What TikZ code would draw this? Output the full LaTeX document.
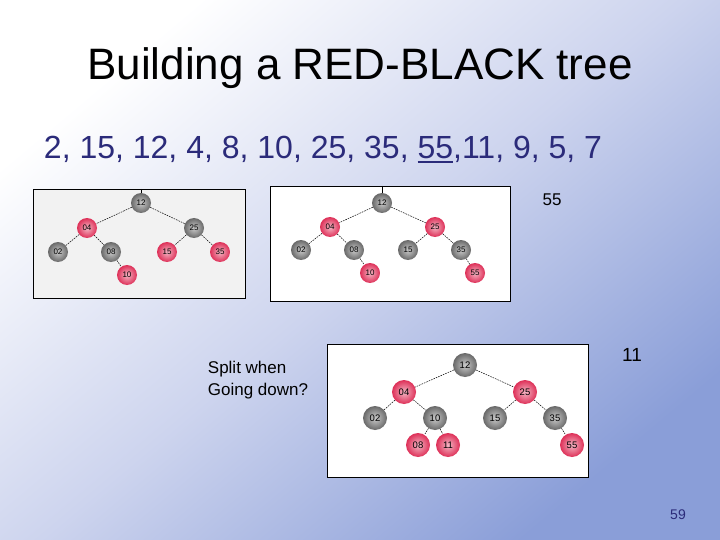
\documentclass[tikz,border=0pt]{standalone}
\usepackage{fontspec}
\setmainfont{Liberation Sans}
\definecolor{seqblue}{RGB}{43,43,122}
\definecolor{bgblue}{RGB}{138,158,216}
\definecolor{bgmid}{RGB}{205,212,238}
\definecolor{rbred}{RGB}{222,48,88}
\definecolor{rbgray}{RGB}{105,105,105}
\newcommand\ulthick[1]{\setbox0\hbox{#1}\rlap{\rule[-4.5pt]{\wd0}{2.4pt}}\box0}

\begin{document}
\begin{tikzpicture}[x=1pt,y=-1pt,
  blk/.style={circle, minimum size=20pt, inner sep=0pt, inner color=rbgray!35!white, outer color=rbgray, text=black, font=\fontsize{8}{8}\selectfont},
  rd/.style={blk, inner color=rbred!35!white, outer color=rbred},
  big/.style={minimum size=24pt, font=\fontsize{9.5}{9.5}\selectfont},
  edge/.style={dash pattern=on 1.6pt off 1pt, line width=0.5pt},
  box/.style={draw=black, line width=0.8pt}]
  % Background
  \useasboundingbox (0,0) rectangle (720,540);
  \shade[top color=white, bottom color=bgblue, middle color=bgmid, shading angle=40] (0,0) rectangle (720,540);
  % Title and sequence
  \node (title) at (360,68) {\fontsize{44}{44}\selectfont Building a RED-BLACK tree};
  \node[text=seqblue] (seq) at (323,150) {\fontsize{32}{32}\selectfont 2, 15, 12, 4, 8, 10, 25, 35, \ulthick{55},11, 9, 5, 7};
  % Side labels
  \node (l55) at (552,200) {\fontsize{17}{17}\selectfont 55};
  \node (l11) at (632,355) {\fontsize{19}{19}\selectfont 11};
  \node[align=left, font=\fontsize{17}{22}\selectfont] (split) at (258,380) {Split when\\Going down?};
  \node[text=seqblue] (page) at (678,515) {\fontsize{14}{14}\selectfont 59};

  % First tree (before 55)
  \draw[box, fill=black!5] (33,189) rectangle (245,298);
  \node[blk] (a12) at (141,203) {12};
  \node[rd]  (a04) at (87,228)  {04};
  \node[blk] (a25) at (194,228) {25};
  \node[blk] (a02) at (58,252)  {02};
  \node[blk] (a08) at (111,252) {08};
  \node[rd]  (a15) at (167,252) {15};
  \node[rd]  (a35) at (220,252) {35};
  \node[rd]  (a10) at (127,275) {10};
  \coordinate (atop) at (141,189);
  \draw[line width=0.5pt] (atop) -- (a12);
  \foreach \p/\c in {12/04, 12/25, 04/02, 04/08, 08/10, 25/15, 25/35}
    \draw[edge] (a\p) -- (a\c);

  % Second tree (55 added)
  \draw[box, fill=white] (270,186) rectangle (510,301);
  \node[blk] (b12) at (382,203) {12};
  \node[rd]  (b04) at (330,227) {04};
  \node[rd]  (b25) at (435,227) {25};
  \node[blk] (b02) at (301,250) {02};
  \node[blk] (b08) at (354,250) {08};
  \node[blk] (b15) at (408,250) {15};
  \node[blk] (b35) at (461,250) {35};
  \node[rd]  (b10) at (370,273) {10};
  \node[rd]  (b55) at (475,273) {55};
  \coordinate (btop) at (382,186);
  \draw[line width=0.5pt] (btop) -- (b12);
  \foreach \p/\c in {12/04, 12/25, 04/02, 04/08, 08/10, 25/15, 25/35, 35/55}
    \draw[edge] (b\p) -- (b\c);

  % Third tree (11 added)
  \draw[box, fill=white] (327,344) rectangle (588,477);
  \node[blk, big] (c12) at (465,365) {12};
  \node[rd, big]  (c04) at (404,392) {04};
  \node[rd, big]  (c25) at (525,392) {25};
  \node[blk, big] (c02) at (375,418) {02};
  \node[blk, big] (c10) at (435,418) {10};
  \node[blk, big] (c15) at (495,418) {15};
  \node[blk, big] (c35) at (555,418) {35};
  \node[rd, big]  (c08) at (418,445) {08};
  \node[rd, big]  (c11) at (448,445) {11};
  \node[rd, big]  (c55) at (572,445) {55};
  \foreach \p/\c in {12/04, 12/25, 04/02, 04/10, 10/08, 10/11, 25/15, 25/35, 35/55}
    \draw[edge] (c\p) -- (c\c);
\end{tikzpicture}
\end{document}
